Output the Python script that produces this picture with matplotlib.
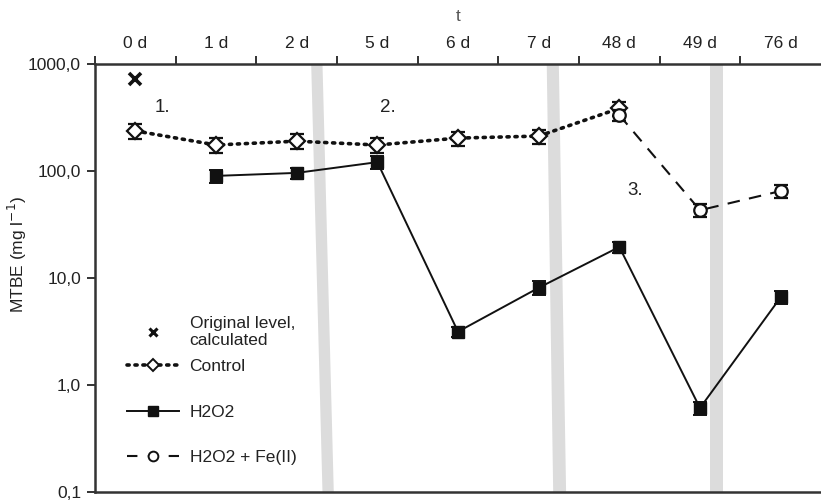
import matplotlib
matplotlib.use("Agg")
import matplotlib.pyplot as plt
import matplotlib.transforms as mtransforms
from matplotlib.ticker import FixedLocator, FuncFormatter, NullFormatter
from matplotlib.lines import Line2D
import numpy as np

plt.rcParams['font.family'] = ['Liberation Sans', 'DejaVu Sans']

days = ["0 d", "1 d", "2 d", "5 d", "6 d", "7 d", "48 d", "49 d", "76 d"]

original_level = 730.0

control_idx = [0, 1, 2, 3, 4, 5, 6]
control = [237, 175, 190, 175, 203, 212, 385]
control_err = [38, 27, 30, 27, 30, 32, 55]

h2o2_idx = [1, 2, 3, 4, 5, 6, 7, 8]
h2o2 = [90, 96, 121, 3.15, 8.1, 19.5, 0.61, 6.6]
h2o2_err = [13, 11, 17, 0.35, 1.2, 2.3, 0.09, 0.9]

fe_idx = [6, 7, 8]
fe = [333, 43, 65]
fe_err = [40, 6, 9]

# shaded (slanted) bands: x at top-left, top-right, bottom-right, bottom-left
bands = [
    (2.18, 2.32, 2.46, 2.32),
    (5.10, 5.25, 5.34, 5.18),
    (7.12, 7.28, 7.28, 7.12),
]

phase_labels = ["1.", "2.", "3."]
phase_x = [0.33, 3.13, 6.20]
phase_y = [390, 390, 66]

FS = 12.5

fig = plt.figure(figsize=(8.21, 5.0), dpi=100)
ax = fig.add_axes([95/821, 8/500, 726/821, 428/500])
ax.set_yscale('log')
ax.set_ylim(0.1, 1000)
ax.set_xlim(-0.5, 8.5)

trans = mtransforms.blended_transform_factory(ax.transData, ax.transAxes)
for b in bands:
    ax.fill([b[0], b[1], b[2], b[3]], [1, 1, 0, 0], color='#dcdcdc',
            transform=trans, zorder=0, linewidth=0)

ecol = '#111111'
ax.errorbar(control_idx, control, yerr=control_err, color=ecol, ls=(0, (0.6, 1.6)),
            dash_capstyle='round', lw=2.6, marker='D', ms=8, mfc='white', mec=ecol,
            mew=1.6, capsize=5, elinewidth=1.4, capthick=1.4, zorder=3)
ax.errorbar(h2o2_idx, h2o2, yerr=h2o2_err, color=ecol, ls='-', lw=1.4,
            marker='s', ms=9, mfc=ecol, mec=ecol, capsize=5, elinewidth=1.4,
            capthick=1.4, zorder=3)
ax.errorbar(fe_idx, fe, yerr=fe_err, color=ecol, ls=(0, (6, 4.5)), lw=1.5,
            marker='o', ms=9, mfc='white', mec=ecol, mew=1.6, capsize=5,
            elinewidth=1.4, capthick=1.4, zorder=4)
ax.plot([0], [original_level], ls='none', marker='x', ms=8, mew=2.6,
        color=ecol, zorder=4)

for t, x, y in zip(phase_labels, phase_x, phase_y):
    ax.text(x, y, t, fontsize=13.5, ha='center', va='center', color='#222222')

# axes styling
ax.spines['right'].set_visible(False)
for s in ['top', 'left', 'bottom']:
    ax.spines[s].set_linewidth(1.8)
    ax.spines[s].set_color('#333333')

ax.xaxis.set_ticks_position('top')
ax.xaxis.set_major_locator(FixedLocator(range(len(days))))
ax.set_xticklabels(days)
ax.xaxis.set_minor_locator(FixedLocator(np.arange(-0.5, 8.0, 1.0)))
ax.tick_params(axis='x', which='major', length=0, pad=9, labelsize=FS,
               labelcolor='#222222', top=True, bottom=False)
ax.tick_params(axis='x', which='minor', length=6, width=1.4, direction='out',
               color='#333333', top=True, bottom=False)
ax.set_xlabel('t', fontsize=FS, color='#555555', labelpad=11)
ax.xaxis.set_label_position('top')

ax.yaxis.set_major_locator(FixedLocator([0.1, 1, 10, 100, 1000]))
ax.yaxis.set_minor_formatter(NullFormatter())
ax.yaxis.set_minor_locator(FixedLocator([]))
ax.yaxis.set_major_formatter(FuncFormatter(lambda v, p: f"{v:.1f}".replace('.', ',')))
ax.tick_params(axis='y', which='major', length=6, width=1.4, direction='out',
               labelsize=FS, labelcolor='#222222', color='#333333', pad=4)
ax.set_ylabel('MTBE (mg l$^{-1}$)', fontsize=FS, color='#222222')
ax.yaxis.set_label_coords((29 - 95) / 726, (492 - 254) / 428)

# legends
h_star = Line2D([], [], ls='none', marker='x', ms=5.5, mew=2.2, color=ecol)
h_ctrl = Line2D([], [], color=ecol, ls=(0, (0.6, 1.6)), lw=2.6, dash_capstyle='round',
                marker='D', ms=6, mfc='white', mec=ecol, mew=1.4)
h_h2o2 = Line2D([], [], color=ecol, ls='-', lw=1.4, marker='s', ms=7, mfc=ecol, mec=ecol)
h_fe = Line2D([], [], color=ecol, ls=(0, (5, 5)), lw=1.5, marker='o', ms=7,
              mfc='white', mec=ecol, mew=1.4)

lx = (127 - 95) / 726
leg1 = ax.legend([h_star], ['Original level,\ncalculated'], loc='upper left',
                 bbox_to_anchor=(lx, (500 - 8 - 316)/428), frameon=False,
                 fontsize=FS, handlelength=3.0, handletextpad=0.6,
                 borderaxespad=0, borderpad=0, labelcolor='#222222')
ax.add_artist(leg1)
ax.legend([h_ctrl, h_h2o2, h_fe], ['Control', 'H2O2', 'H2O2 + Fe(II)'],
          loc='upper left', bbox_to_anchor=(lx, (500 - 8 - 359)/428),
          frameon=False, fontsize=FS, handlelength=3.0, handletextpad=0.6,
          labelspacing=1.75, borderaxespad=0, borderpad=0, labelcolor='#222222')

fig.savefig('out.png', dpi=100)
